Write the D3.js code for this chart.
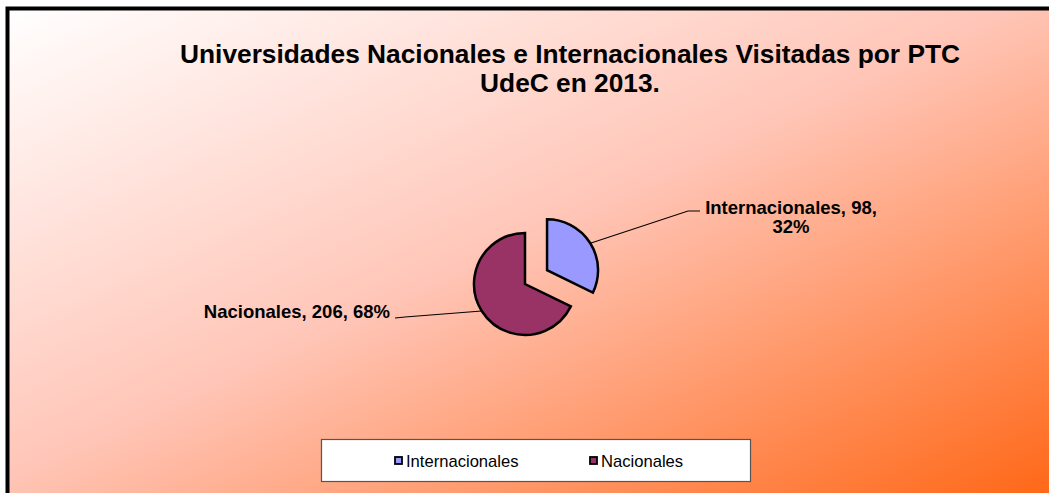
<!DOCTYPE html>
<html>
<head>
<meta charset="utf-8">
<script src="https://cdn.jsdelivr.net/npm/d3@7"></script>
<style>
  html, body { margin: 0; padding: 0; background: #fff; }
  svg { display: block; font-family: Arial, "Liberation Sans", sans-serif; }
</style>
</head>
<body>
<div id="chart"></div>
<script>
const categories = ["Internacionales", "Nacionales"];
const values = [98, 206];
const colors = ["#9999ff", "#993366"];
const titleLines = ["Universidades Nacionales e Internacionales Visitadas por PTC", "UdeC en 2013."];

const width = 1049;
const height = 493;

const svg = d3.select("#chart").append("svg")
  .attr("width", width)
  .attr("height", height);

// background gradient, white top-left to orange bottom-right
const defs = svg.append("defs");
const grad = defs.append("linearGradient")
  .attr("id", "bg")
  .attr("x1", 0).attr("y1", 0)
  .attr("x2", 1).attr("y2", 1);
grad.append("stop").attr("offset", "0%").attr("stop-color", "#ffffff");
grad.append("stop").attr("offset", "48%").attr("stop-color", "#ffc6b8");
grad.append("stop").attr("offset", "100%").attr("stop-color", "#ff6818");

svg.append("rect")
  .attr("x", 8).attr("y", 8)
  .attr("width", width - 8).attr("height", height - 8)
  .attr("fill", "url(#bg)");

// thick frame on top and left
svg.append("path")
  .attr("d", `M7.5,${height} L7.5,8.5 L${width},8.5`)
  .attr("fill", "none")
  .attr("stroke", "#000")
  .attr("stroke-width", 4);

// title
svg.append("g")
  .selectAll("text")
  .data(titleLines)
  .join("text")
  .attr("x", 570)
  .attr("y", (d, i) => 63 + i * 29)
  .attr("text-anchor", "middle")
  .attr("font-size", 26.3)
  .attr("font-weight", "bold")
  .attr("fill", "#000")
  .text(d => d);

// pie
const cx = 525, cy = 284, r = 51, explode = 26;
const total = d3.sum(values);
const pie = d3.pie().sort(null).startAngle(0).endAngle(2 * Math.PI);
const arcs = pie(values);
const arc = d3.arc().innerRadius(0).outerRadius(r);

const offsets = [explode, 0];

const slices = svg.append("g")
  .attr("transform", `translate(${cx},${cy})`);

slices.selectAll("path")
  .data(arcs)
  .join("path")
  .attr("transform", (d, i) => {
    const a = (d.startAngle + d.endAngle) / 2;
    return `translate(${Math.sin(a) * offsets[i]},${-Math.cos(a) * offsets[i]})`;
  })
  .attr("d", arc)
  .attr("fill", (d, i) => colors[i])
  .attr("stroke", "#000")
  .attr("stroke-width", 2.5)
  .attr("stroke-linejoin", "miter");

// data labels with leader lines
const labelPos = [
  { elbow: [688, 211], end: [700, 211], x: 791, y: 214, anchor: "middle",
    lines: [`${categories[0]}, ${values[0]},`, `${Math.round(values[0] / total * 100)}%`] },
  { elbow: [405, 317], end: [395, 318], x: 390, y: 318, anchor: "end",
    lines: [`${categories[1]}, ${values[1]}, ${Math.round(values[1] / total * 100)}%`] }
];

arcs.forEach((d, i) => {
  const a = (d.startAngle + d.endAngle) / 2;
  const ox = cx + Math.sin(a) * offsets[i];
  const oy = cy - Math.cos(a) * offsets[i];
  const sx = ox + Math.sin(a) * r;
  const sy = oy - Math.cos(a) * r;
  const L = labelPos[i];
  svg.append("path")
    .attr("d", `M${sx},${sy} L${L.elbow[0]},${L.elbow[1]} L${L.end[0]},${L.end[1]}`)
    .attr("fill", "none")
    .attr("stroke", "#000")
    .attr("stroke-width", 1.1);
  svg.append("g")
    .selectAll("text")
    .data(L.lines)
    .join("text")
    .attr("x", L.x)
    .attr("y", (t, j) => L.y + j * 19)
    .attr("text-anchor", L.anchor)
    .attr("font-size", 18.5)
    .attr("font-weight", "bold")
    .attr("fill", "#000")
    .text(t => t);
});

// legend
const legend = svg.append("g");
legend.append("rect")
  .attr("x", 321.5).attr("y", 439.5)
  .attr("width", 429).attr("height", 42)
  .attr("fill", "#fff")
  .attr("stroke", "#555")
  .attr("stroke-width", 1.2);

const legendX = d3.scalePoint().domain(categories).range([395, 590]);

const items = legend.selectAll("g.item")
  .data(categories)
  .join("g")
  .attr("class", "item")
  .attr("transform", d => `translate(${legendX(d)},461)`);

items.append("rect")
  .attr("x", 0).attr("y", -4)
  .attr("width", 7).attr("height", 7)
  .attr("fill", (d, i) => colors[i])
  .attr("stroke", "#000")
  .attr("stroke-width", 1.8);

items.append("text")
  .attr("x", 11)
  .attr("y", 5.5)
  .attr("font-size", 16.6)
  .attr("fill", "#000")
  .text(d => d);
</script>
</body>
</html>
